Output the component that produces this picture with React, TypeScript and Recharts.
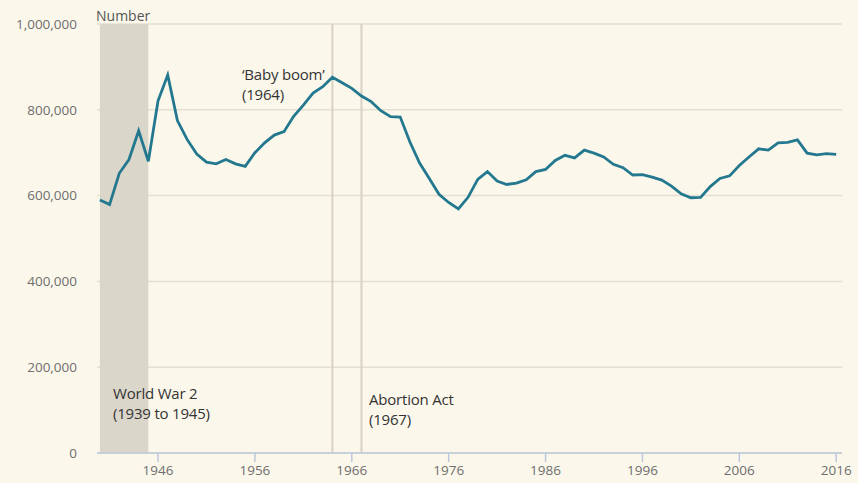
import {
  CartesianGrid,
  Line,
  LineChart,
  ReferenceArea,
  ReferenceLine,
  XAxis,
  YAxis,
} from 'recharts';

const years = [
  1940, 1941, 1942, 1943, 1944, 1945, 1946, 1947, 1948, 1949,
  1950, 1951, 1952, 1953, 1954, 1955, 1956, 1957, 1958, 1959,
  1960, 1961, 1962, 1963, 1964, 1965, 1966, 1967, 1968, 1969,
  1970, 1971, 1972, 1973, 1974, 1975, 1976, 1977, 1978, 1979,
  1980, 1981, 1982, 1983, 1984, 1985, 1986, 1987, 1988, 1989,
  1990, 1991, 1992, 1993, 1994, 1995, 1996, 1997, 1998, 1999,
  2000, 2001, 2002, 2003, 2004, 2005, 2006, 2007, 2008, 2009,
  2010, 2011, 2012, 2013, 2014, 2015, 2016,
];

// live births
const births = [
  590000, 579000, 652000, 684000, 751000, 680000, 821000, 881000, 775000, 731000,
  697000, 678000, 674000, 684000, 674000, 668000, 700000, 723000, 741000, 749000,
  785000, 811000, 839000, 854000, 876000, 863000, 850000, 832000, 819000, 798000,
  784000, 783000, 725000, 676000, 640000, 603000, 584000, 569000, 596000, 638000,
  656000, 634000, 626000, 629000, 637000, 656000, 661000, 682000, 694000, 688000,
  706000, 699000, 690000, 673000, 665000, 648000, 649000, 643000, 636000, 622000,
  604000, 595000, 596000, 621000, 640000, 646000, 670000, 690000, 709000, 706000,
  723000, 724000, 730000, 699000, 695000, 698000, 696000,
];

const xTicks = [1946, 1956, 1966, 1976, 1986, 1996, 2006, 2016];
const yTicks = [0, 200000, 400000, 600000, 800000, 1000000];

const data = years.map((year, i) => ({ year, births: births[i] }));

const textStyle: React.CSSProperties = {
  position: 'absolute',
  fontSize: 15,
  lineHeight: '20px',
  color: '#333',
  whiteSpace: 'nowrap',
  letterSpacing: -0.2,
};

export default function App() {
  return (
    <div
      style={{
        position: 'absolute',
        left: 0,
        top: 0,
        width: 858,
        height: 483,
        background: '#fbf8eb',
        fontFamily: '"Open Sans", sans-serif',
      }}
    >
      <LineChart
        width={858}
        height={483}
        data={data}
        margin={{ top: 24, right: 16, left: 0, bottom: 0 }}
      >
        <CartesianGrid vertical={false} stroke="#e3dfd1" strokeWidth={1.5} />
        <ReferenceArea
          x1={1940}
          x2={1945}
          y1={0}
          y2={1000000}
          fill="#dbd6ca"
          fillOpacity={1}
          stroke="none"
        />
        <ReferenceLine x={1964} stroke="#d6d1c2" strokeWidth={2} />
        <ReferenceLine x={1967} stroke="#d6d1c2" strokeWidth={2} />
        <XAxis
          dataKey="year"
          type="number"
          domain={[1939.7, 2016.6]}
          ticks={xTicks}
          interval={0}
          height={30}
          stroke="#bcc8dc"
          strokeWidth={1.5}
          tickSize={9}
          tickMargin={3}
          tick={{ fill: '#6e6e6e', fontSize: 13.5 }}
        />
        <YAxis
          domain={[0, 1000000]}
          ticks={yTicks}
          width={97}
          axisLine={false}
          tickLine={false}
          tickSize={0}
          tickMargin={20}
          tick={{ fill: '#6e6e6e', fontSize: 13.5 }}
          tickFormatter={(v: number) => v.toLocaleString('en-GB')}
        />
        <Line
          type="linear"
          dataKey="births"
          stroke="#23788f"
          strokeWidth={2.8}
          dot={false}
          isAnimationActive={false}
        />
      </LineChart>
      <div
        style={{ ...textStyle, left: 96, top: 6, fontSize: 14, color: '#555', letterSpacing: 0 }}
      >
        Number
      </div>
      <div style={{ ...textStyle, left: 242, top: 64 }}>
        ‘Baby boom’
        <br />
        (1964)
      </div>
      <div style={{ ...textStyle, left: 113, top: 383 }}>
        World War 2
        <br />
        (1939 to 1945)
      </div>
      <div style={{ ...textStyle, left: 369, top: 389 }}>
        Abortion Act
        <br />
        (1967)
      </div>
    </div>
  );
}
